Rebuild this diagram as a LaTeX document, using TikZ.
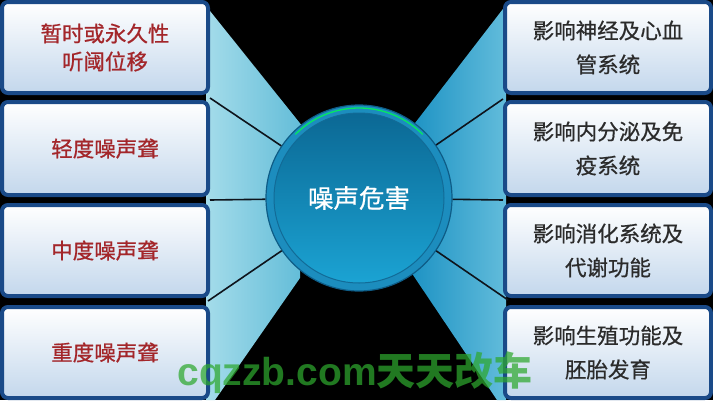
\documentclass[tikz,border=0pt]{standalone}
\usepackage{fontspec}
\newfontfamily\cjk{Noto Sans CJK SC}
\newfontfamily\cjkm[FakeBold=0.7]{Noto Sans CJK SC}
\newfontfamily\wmlat{Liberation Sans}
\definecolor{frame}{HTML}{1A4A88}
\definecolor{boxbot}{HTML}{C3D7EC}
\definecolor{lefttxt}{HTML}{A3262A}
\definecolor{righttxt}{HTML}{2B2B2B}
\definecolor{fanLa}{HTML}{A4DCEA}
\definecolor{fanLb}{HTML}{62BCD8}
\definecolor{fanRa}{HTML}{1E93C4}
\definecolor{fanRb}{HTML}{62BCDB}
\definecolor{ring}{HTML}{1C8DBE}
\definecolor{rim}{HTML}{0E5C86}
\definecolor{discTop}{HTML}{0B6894}
\definecolor{discBot}{HTML}{1BA3D3}
\definecolor{wmgreen}{HTML}{2EA82E}
\definecolor{conn}{HTML}{0E141C}
\tikzset{
  box/.style={draw=frame, line width=4pt, rounded corners=6pt,
    top color=white, bottom color=boxbot, minimum width=206pt,
    minimum height=91pt, inner sep=0pt, align=center},
  ltext/.style={text=lefttxt, font=\cjkm\fontsize{21.5}{28}\selectfont},
  rtext/.style={text=righttxt, font=\cjkm\fontsize{21.5}{34}\selectfont},
  connline/.style={draw=conn, line width=1.6pt},
}
\begin{document}
\begin{tikzpicture}[x=1pt,y=-1pt]
\fill[black] (0,0) rectangle (713,400);
\useasboundingbox (0,0) rectangle (713,400);
% fans
\shade[left color=fanLa, right color=fanLb] (206,6) -- (303,127) -- (300,278) -- (215,400) -- (206,400) -- cycle;
\shade[left color=fanRa, right color=fanRb] (506,5) -- (412,127) -- (413,275) -- (497,400) -- (506,400) -- cycle;
% gap coordinates
\coordinate (gl1) at (210,98);
\coordinate (gl2) at (210,200);
\coordinate (gl3) at (208,301);
\coordinate (gr1) at (503,99);
\coordinate (gr2) at (503,200);
\coordinate (gr3) at (508,300);
% centre circle
\node[circle, minimum size=186pt, inner sep=0pt, fill=ring, draw=rim, line width=1.2pt] (C) at (359,198) {};
\draw[connline] (C) -- (gl1);
\draw[connline] (C) -- (gl2);
\draw[connline] (C) -- (gl3);
\draw[connline] (C) -- (gr1);
\draw[connline] (C) -- (gr2);
\draw[connline] (C) -- (gr3);
\shade[top color=discTop, bottom color=discBot] (C.center) circle[radius=85pt];
\draw[rim!70!ring, line width=1pt] (C.center) circle[radius=85pt];
\draw[green!70!cyan, line width=1.3pt, opacity=0.8] (C.center) ++(45:90pt) arc[start angle=45, end angle=135, radius=90pt];
\node[text=white, font=\cjkm\fontsize{25.5}{30}\selectfont] (T) at (C.center) {噪声危害};
% left boxes
\node[box, ltext] (L1) at (105,47.5) {暂时或永久性\\听阈位移};
\node[box, ltext, minimum height=93pt] (L2) at (105,148.5) {轻度噪声聋};
\node[box, ltext] (L3) at (105,250.5) {中度噪声聋};
\node[box, ltext] (L4) at (105,352.5) {重度噪声聋};
% right boxes
\node[box, rtext] (R1) at (608,47.5) {影响神经及心血\\管系统};
\node[box, rtext, minimum height=93pt] (R2) at (608,148.5) {影响内分泌及免\\疫系统};
\node[box, rtext] (R3) at (608,250.5) {影响消化系统及\\代谢功能};
\node[box, rtext] (R4) at (608,352.5) {影响生殖功能及\\胚胎发育};
% watermark
\node[text=wmgreen, opacity=0.72, inner sep=0pt] (W) at (355,373)
  {{\wmlat\bfseries\fontsize{39}{40}\selectfont cqzzb.com}{\cjk\bfseries\fontsize{39}{40}\selectfont 天天改车}};
\end{tikzpicture}
\end{document}
